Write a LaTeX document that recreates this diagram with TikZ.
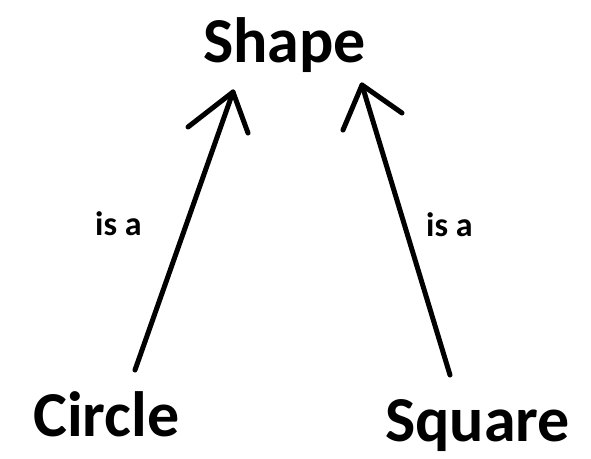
\documentclass[tikz,border=0pt]{standalone}
\usepackage{fontspec}
\setmainfont{Carlito}
\begin{document}
\begin{tikzpicture}[x=1pt,y=-1pt,
  big/.style={inner sep=0pt,anchor=base west,font=\fontsize{64}{64}\selectfont\bfseries},
  lbl/.style={inner sep=0pt,anchor=base west,font=\fontsize{34}{34}\selectfont\bfseries},
  stroke/.style={line width=5pt,line cap=round,line join=round}]
\useasboundingbox (0,0) rectangle (591,458);
\node[big] (shape) at (203,62) {Shape};
\node[big] (circle) at (33,436) {Circle};
\node[big] (square) at (385,441) {Square};
\node[lbl] (isa1) at (95,235) {is a};
\node[lbl] (isa2) at (426,236) {is a};
% left arrow
\coordinate (l0) at (135,370);
\coordinate (l1) at (233,92);
\coordinate (lb1) at (188,127);
\coordinate (lb2) at (248,133);
\draw[stroke] (l0) -- (l1);
\draw[stroke] (lb1) -- (l1) -- (lb2);
% right arrow
\coordinate (r0) at (450,375);
\coordinate (r1) at (362,85);
\coordinate (rb1) at (343,130);
\coordinate (rb2) at (402,113);
\draw[stroke] (r0) -- (r1);
\draw[stroke] (rb1) -- (r1) -- (rb2);
\end{tikzpicture}
\end{document}
